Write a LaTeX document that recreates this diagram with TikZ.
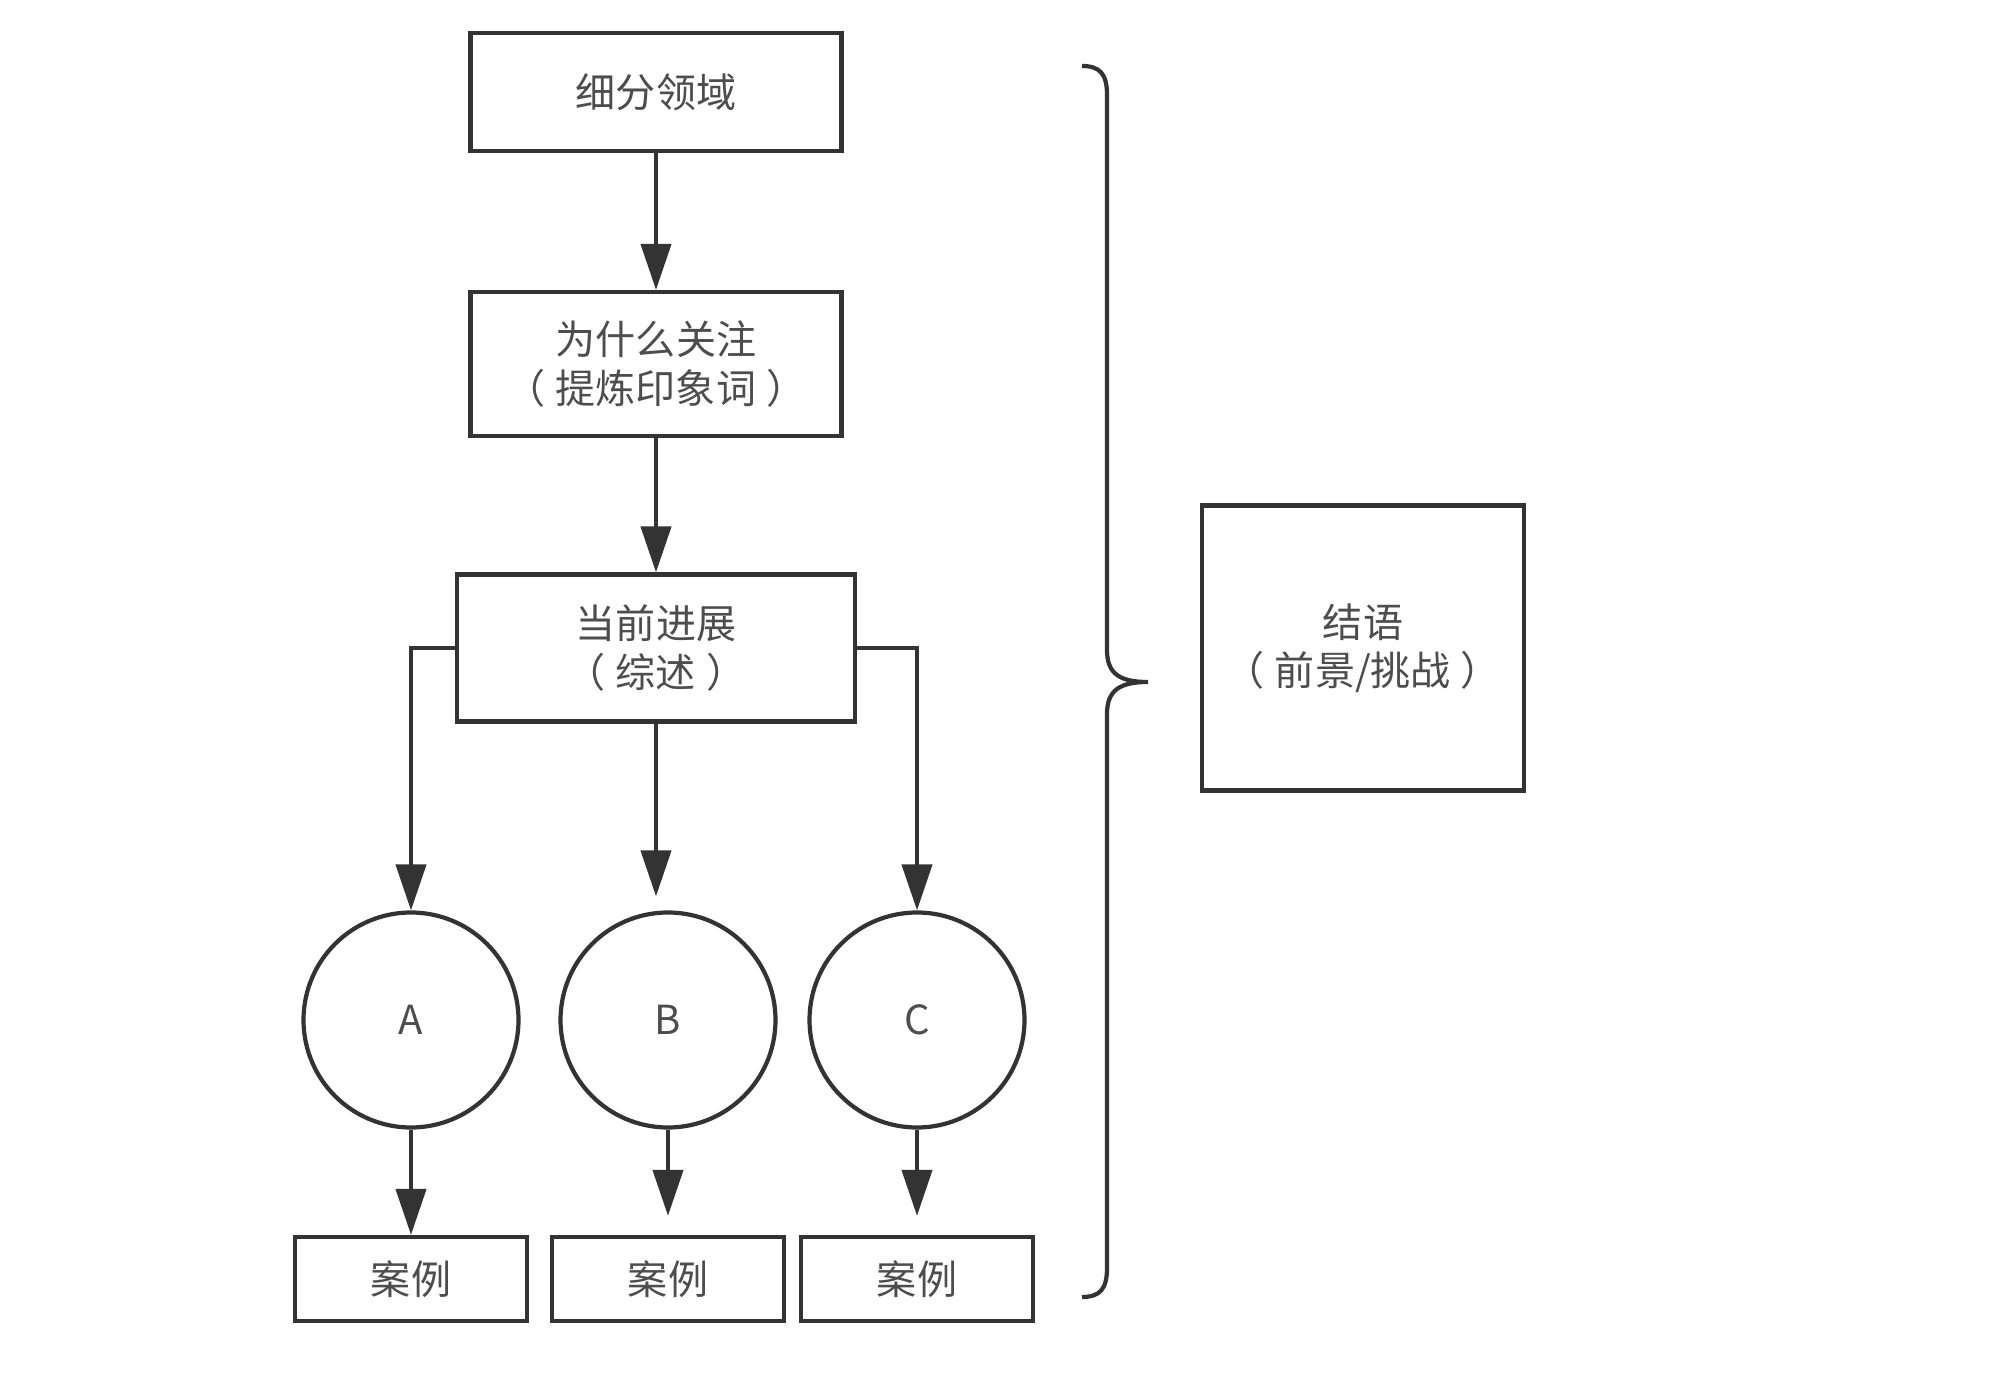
\documentclass[tikz,border=0pt]{standalone}
\usepackage{fontspec}
\setmainfont{Noto Sans CJK SC}
\usetikzlibrary{arrows.meta}
\definecolor{linegray}{HTML}{333333}
\definecolor{textgray}{HTML}{4D4D4D}
\tikzstyle{process} = [
    rectangle,
    inner sep=0pt,
    align=center,
    line width=1.2pt,
    draw=linegray,
    text=textgray,
    font=\fontsize{11.4pt}{13.8pt}\selectfont
]
\tikzstyle{topic} = [
    circle,
    inner sep=0pt,
    minimum size=2.15cm,
    line width=1.2pt,
    draw=linegray,
    text=textgray,
    font=\fontsize{11.4pt}{13.8pt}\selectfont
]
\tikzstyle{arrow} = [line width=1.2pt, draw=linegray, -{Triangle[length=4.6mm, width=3mm]}]

\begin{document}
\begin{tikzpicture}
\useasboundingbox (0,0) rectangle (20,-13.98);

\node (field) [process, minimum width=3.71cm, minimum height=1.18cm] at (6.56,-0.92)
{细分领域};

\node (why) [process, minimum width=3.71cm, minimum height=1.44cm, below of=field, node distance=2.72cm]
{为什么关注\\（\hspace{0.25em}提炼印象词\hspace{0.25em}）};

\node (now) [process, minimum width=3.98cm, minimum height=1.47cm, below of=why, node distance=2.84cm]
{当前进展\\（\hspace{0.25em}综述\hspace{0.25em}）};

\node (a) [topic] at (4.11,-10.20) {A};
\node (b) [topic] at (6.68,-10.20) {B};
\node (c) [topic] at (9.17,-10.20) {C};

\node (casea) [process, minimum width=2.32cm, minimum height=0.84cm, below of=a, node distance=2.59cm] {案例};
\node (caseb) [process, minimum width=2.32cm, minimum height=0.84cm, below of=b, node distance=2.59cm] {案例};
\node (casec) [process, minimum width=2.32cm, minimum height=0.84cm, below of=c, node distance=2.59cm] {案例};

\node (outlook) [process, minimum width=3.22cm, minimum height=2.85cm, right of=now, node distance=7.07cm]
{结语\\（\hspace{0.25em}前景/挑战\hspace{0.25em}）};

\draw [arrow] (field) -- (why);
\draw [arrow] (why) -- (now);
\draw [arrow] (now.west) -| (a.north);
\draw [arrow, shorten >=0.14cm] (now.south) -- (now.south |- b.north);
\draw [arrow] (now.east) -| (c.north);
\draw [arrow] (a) -- (casea);
\draw [arrow, shorten >=0.19cm] (b) -- (caseb);
\draw [arrow, shorten >=0.19cm] (c) -- (casec);

% brace
\draw [line width=1.2pt, linegray]
    (10.82,-0.66) .. controls (11.00,-0.66) and (11.07,-0.74) .. (11.07,-0.95)
    -- (11.07,-6.50) .. controls (11.07,-6.74) and (11.20,-6.82) .. (11.48,-6.82)
    .. controls (11.20,-6.82) and (11.07,-6.90) .. (11.07,-7.14)
    -- (11.07,-12.68) .. controls (11.07,-12.89) and (11.00,-12.97) .. (10.82,-12.97);

\end{tikzpicture}
\end{document}
